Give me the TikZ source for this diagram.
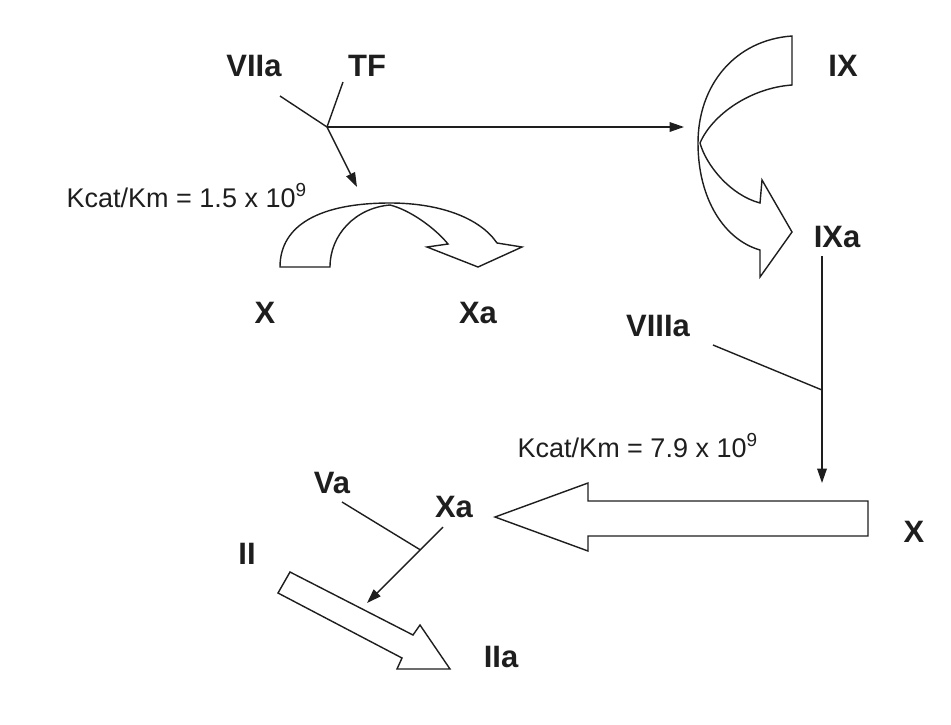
\documentclass[tikz,border=0pt]{standalone}
\usepackage{fontspec}
\setmainfont{Liberation Sans}
\usetikzlibrary{arrows.meta, positioning, calc}
\definecolor{cink}{HTML}{1E1E1E}
\tikzset{
  every picture/.style={line width=1pt, x=0.025cm, y=-0.025cm},
  lbl/.style={font=\fontsize{22}{26}\selectfont\bfseries, text=cink, inner sep=0pt},
  rate/.style={font=\fontsize{19.2}{23}\selectfont, text=cink, inner sep=0pt},
  arrow/.style={-{Triangle[length=3.6mm, width=2.4mm]}, draw=cink},
  link/.style={draw=cink},
  fatarrow/.style={draw=cink, fill=white, line join=miter},
}

\begin{document}
\begin{tikzpicture}
  \useasboundingbox (0,0) rectangle (951,724);
  % initiation
  \node[lbl] (VIIa) at (254,66) {VIIa};
  \node[lbl] (TF) at (367,66) {TF};
  \coordinate (vIIaEnd) at (280,96);
  \coordinate (tfEnd) at (343,82);
  \coordinate (cplx) at (327,127);
  \coordinate (toIX) at (684,127);
  \coordinate (toX) at (357,187);
  \draw[link] (vIIaEnd) -- (cplx);
  \draw[link] (tfEnd) -- (cplx);
  \draw[arrow] (cplx) -- (toIX);
  \draw[arrow] (cplx) -- (toX);
  \node[rate, anchor=base west] (k1) at (66,207) {Kcat/Km = 1.5 x 10\textsuperscript{9}};
  % X -> Xa
  \draw[fatarrow] (280,267) -- (330,267) .. controls (330,235) and (355,208) .. (390,205)
    .. controls (410,210) and (435,228) .. (448,244) -- (427,247) -- (478,267) -- (522,247)
    -- (497,243) .. controls (480,218) and (440,203) .. (390,203)
    .. controls (320,203) and (280,225) .. cycle;
  \node[lbl] (X1) at (265,313) {X};
  \node[lbl] (Xa1) at (478,313) {Xa};
  % IX -> IXa
  \draw[fatarrow] (792,36) -- (792,85) .. controls (750,88) and (712,115) .. (700,143)
    .. controls (706,165) and (730,195) .. (760,203) -- (762,180) -- (792,232) -- (760,277)
    -- (760,250) .. controls (725,240) and (698,200) .. (698,143)
    .. controls (698,85) and (735,40) .. cycle;
  \node[lbl] (IX) at (843,66) {IX};
  \node[lbl] (IXa) at (837,237) {IXa};
  % tenase
  \node[lbl] (VIIIa) at (658,326) {VIIIa};
  \coordinate (ixTop) at (822,256);
  \coordinate (ixBot) at (822,483);
  \coordinate (ixMid) at (822,390);
  \coordinate (viiiEnd) at (713,345);
  \draw[arrow] (ixTop) -- (ixBot);
  \draw[link] (viiiEnd) -- (ixMid);
  \node[rate, anchor=base west] (k2) at (517,457) {Kcat/Km = 7.9 x 10\textsuperscript{9}};
  \draw[fatarrow] (868,501) -- (588,501) -- (588,483) -- (495,517) -- (588,551) -- (588,536)
    -- (868,536) -- cycle;
  \node[lbl] (X2) at (914,532) {X};
  % prothrombinase
  \node[lbl] (Xa2) at (454,507) {Xa};
  \node[lbl] (Va) at (332,483) {Va};
  \coordinate (xaStart) at (443,527);
  \coordinate (xaEnd) at (367,603);
  \coordinate (vaEnd) at (342,502);
  \draw[arrow] (xaStart) -- (xaEnd);
  \draw[link] (vaEnd) -- ($(xaStart)!0.3!(xaEnd)$);
  \draw[fatarrow] (290,572) -- (413,635) -- (420,625) -- (450,669) -- (397,669) -- (402,658)
    -- (278,593) -- cycle;
  \node[lbl] (II) at (247,554) {II};
  \node[lbl] (IIa) at (501,657) {IIa};
\end{tikzpicture}
\end{document}
